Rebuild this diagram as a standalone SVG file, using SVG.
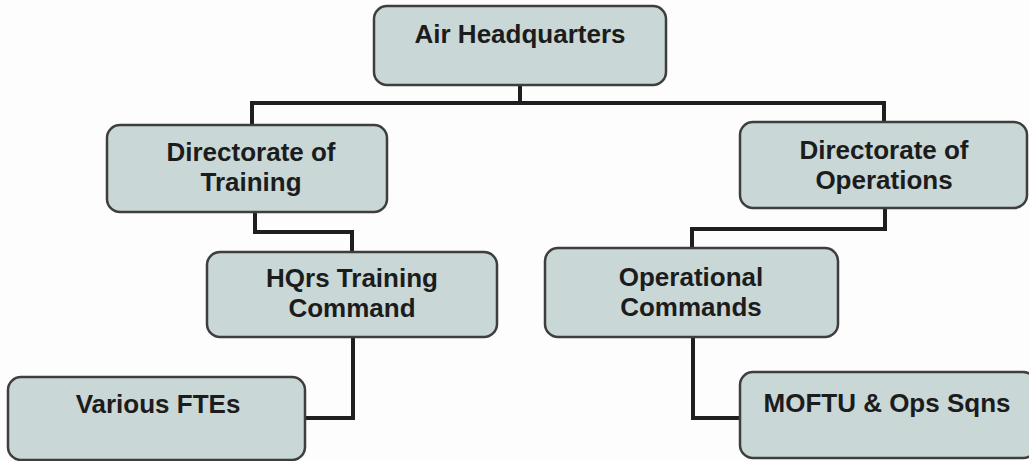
<svg xmlns="http://www.w3.org/2000/svg" width="1029" height="461" viewBox="0 0 1029 461">
  <style>
    .box { fill: #c9d7d6; stroke: #3e3e3e; stroke-width: 2.5; }
    .lbl { font-family: "Liberation Sans", Arial, sans-serif; font-weight: bold; font-size: 26px; fill: #1c1c1c; text-anchor: middle; }
    .wire { fill: none; stroke: #1f1f1f; stroke-width: 4; stroke-linejoin: miter; }
  </style>
  <rect width="1029" height="461" fill="#fdfdfd"/>

  <!-- connectors -->
  <g id="connectors">
    <path class="wire" d="M520,85 V103"/>
    <path class="wire" d="M252,125 V103 H884 V122"/>
    <path class="wire" d="M255,212 V232 H352 V252"/>
    <path class="wire" d="M885,208 V229 H692 V248"/>
    <path class="wire" d="M353,337 V418 H305"/>
    <path class="wire" d="M693,337 V418 H740"/>
  </g>

  <g id="air-hq">
    <rect class="box" x="374" y="6" width="292" height="79" rx="13"/>
    <text class="lbl" x="520" y="43">Air Headquarters</text>
  </g>

  <g id="dir-training">
    <rect class="box" x="107" y="125" width="280" height="87" rx="13"/>
    <text class="lbl" x="251" y="161">Directorate of</text>
    <text class="lbl" x="251" y="191">Training</text>
  </g>

  <g id="dir-operations">
    <rect class="box" x="740" y="122" width="287" height="86" rx="13"/>
    <text class="lbl" x="884" y="159">Directorate of</text>
    <text class="lbl" x="884" y="189">Operations</text>
  </g>

  <g id="hq-training-command">
    <rect class="box" x="207" y="252" width="290" height="85" rx="13"/>
    <text class="lbl" x="352" y="287">HQrs Training</text>
    <text class="lbl" x="352" y="317">Command</text>
  </g>

  <g id="operational-commands">
    <rect class="box" x="545" y="248" width="293" height="89" rx="13"/>
    <text class="lbl" x="691" y="285.5">Operational</text>
    <text class="lbl" x="691" y="315.5">Commands</text>
  </g>

  <g id="various-ftes">
    <rect class="box" x="8" y="377" width="297" height="83" rx="13"/>
    <text class="lbl" x="158" y="413">Various FTEs</text>
  </g>

  <g id="moftu-ops-sqns">
    <rect class="box" x="740" y="372" width="296" height="86" rx="13"/>
    <text class="lbl" x="887" y="412">MOFTU &amp; Ops Sqns</text>
  </g>
</svg>
